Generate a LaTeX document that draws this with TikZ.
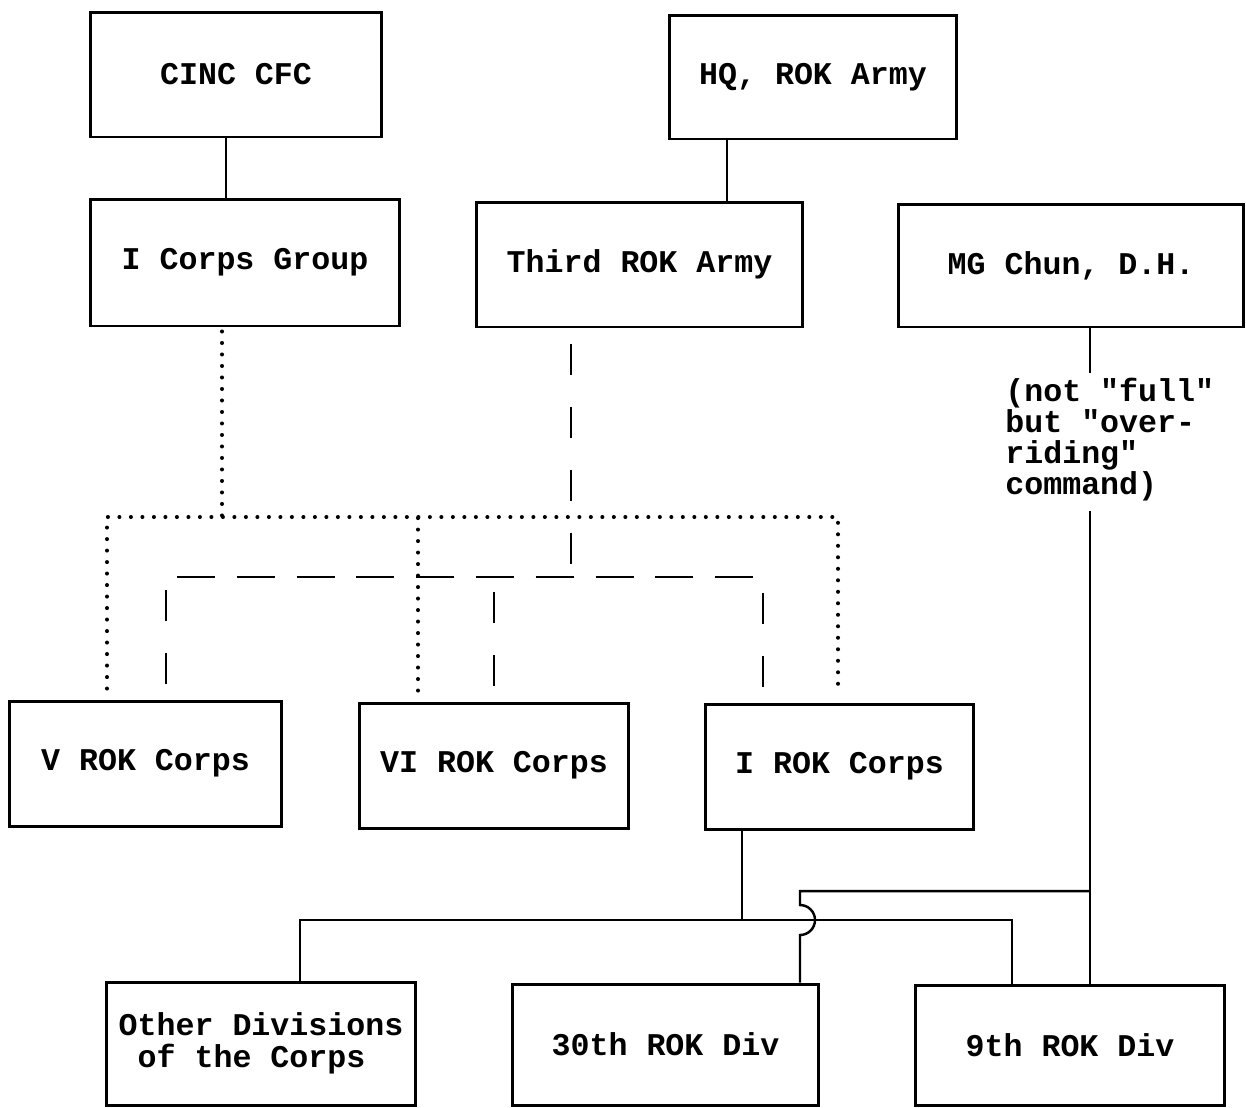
\documentclass[tikz,border=0pt]{standalone}
\usepackage{fontspec}
\usepackage{tikz}
\usetikzlibrary{calc}
\newfontfamily\monofam{Liberation Mono}
\newcommand\chartfont{\monofam\bfseries\fontsize{18pt}{18pt}\selectfont}

\begin{document}
\begin{tikzpicture}[
  x=0.02cm, y=0.02cm,
  box/.style={rectangle, draw=black, line width=1.7pt, inner sep=0pt,
              minimum height=2.5cm, align=center, font=\chartfont},
  note/.style={inner sep=0pt, align=left, font={\monofam\bfseries\fontsize{18pt}{17.6pt}\selectfont}},
  link/.style={line width=1.4pt},
  dotline/.style={line width=2.3pt, line cap=round, dash pattern=on 0pt off 0.23cm},
  dashv/.style={line width=1.4pt, dash pattern=on 0.62cm off 0.634cm},
  dashh/.style={line width=1.4pt, dash pattern=on 0.76cm off 0.436cm}
]
\useasboundingbox (0,0) rectangle (1246,-1107);

\node[box, minimum width=5.84cm] (cinc) at (236,-74.5) {CINC CFC};
\node[box, minimum width=5.76cm, minimum height=2.48cm] (hq) at (813,-77) {HQ, ROK Army};
\node[box, minimum width=6.2cm, minimum height=2.54cm] (icg) at (245,-262.5) {I Corps Group};
\node[box, minimum width=6.54cm] (third) at (639.5,-264.5) {Third ROK Army};
\node[box, minimum width=6.92cm, minimum height=2.46cm] (mg) at (1071,-265.5) {MG Chun, D.H.};
\node[box, minimum width=5.46cm] (vcorps) at (145.5,-763.5) {V ROK Corps};
\node[box, minimum width=5.4cm] (vicorps) at (494,-765.5) {VI ROK Corps};
\node[box, minimum width=5.38cm] (icorps) at (839.5,-766.5) {I ROK Corps};
\node[box, minimum width=6.2cm, minimum height=2.46cm, align=left] (otherdiv) at (261,-1043.5) {Other Divisions\\~of the Corps};
\node[box, minimum width=6.14cm, minimum height=2.42cm] (div30) at (665.5,-1044.5) {30th ROK Div};
\node[box, minimum width=6.2cm, minimum height=2.4cm] (div9) at (1070,-1045) {9th ROK Div};
\node[note, anchor=north west] (note) at (1005,-378) {(not "full"\\but "over-\\riding"\\command)};

\coordinate (cincdrop) at ($(cinc.south)+(-10,0)$);
\coordinate (hqdrop) at ($(hq.south)+(-86,0)$);
\coordinate (icgdot) at ($(icg.south)+(-23,-4)$);
\coordinate (vdot) at ($(vcorps.north)+(-38.5,11)$);
\coordinate (vidot) at ($(vicorps.north)+(-76,11)$);
\coordinate (idot) at ($(icorps.north)+(-1.5,12)$);
\coordinate (dotbus) at (0,-517);
\coordinate (thirddash) at ($(third.south)+(-68.5,-16)$);
\coordinate (vdash) at ($(vcorps.north)+(20.5,16)$);
\coordinate (vidash) at ($(vicorps.north)+(0,16)$);
\coordinate (idash) at ($(icorps.north)+(-76.5,16)$);
\coordinate (dashbus) at (0,-577);
\coordinate (dashL) at (177,-577);
\coordinate (dashR) at (753,-577);
\coordinate (icdrop) at ($(icorps.south)+(-97.5,0)$);
\coordinate (otherdrop) at ($(otherdiv.north)+(39,0)$);
\coordinate (div9drop) at ($(div9.north)+(-58,0)$);
\coordinate (div30drop) at ($(div30.north)+(134.5,0)$);
\coordinate (mgdrop) at ($(mg.south)+(19,0)$);
\coordinate (divbus) at (0,-920);
\coordinate (mgbus) at (0,-891);

\draw[link] (cincdrop) -- (cincdrop |- icg.north);
\draw[link] (hqdrop) -- (hqdrop |- third.north);

\draw[dotline] (vdot) -- (vdot |- dotbus) -- (idot |- dotbus) -- (idot);
\draw[dotline] (icgdot) -- (icgdot |- dotbus);
\draw[dotline] (vidot) -- (vidot |- dotbus);

\draw[dashv] (thirddash) -- (thirddash |- dashbus);
\draw[dashh] (dashL) -- (dashR);
\draw[dashv] (vdash) -- (vdash |- dashbus);
\draw[dashv] (vidash) -- (vidash |- dashbus);
\draw[dashv] (idash) -- (idash |- dashbus);

\draw[link, shorten >=0.1cm] (mgdrop) -- (mgdrop |- note.north);
\draw[link, shorten <=0.2cm] (mgdrop |- note.south) -- (mgdrop |- div9.north);
\draw[link] (icdrop) -- (icdrop |- divbus);
\draw[link] (otherdrop) -- (otherdrop |- divbus) -- (div9drop |- divbus) -- (div9drop);
\draw[link] (mgdrop |- mgbus) -- (div30drop |- mgbus) -- ($(div30drop |- divbus)+(0,15)$)
  arc[start angle=90, end angle=-90, radius=0.3cm] -- (div30drop);

\end{tikzpicture}
\end{document}
